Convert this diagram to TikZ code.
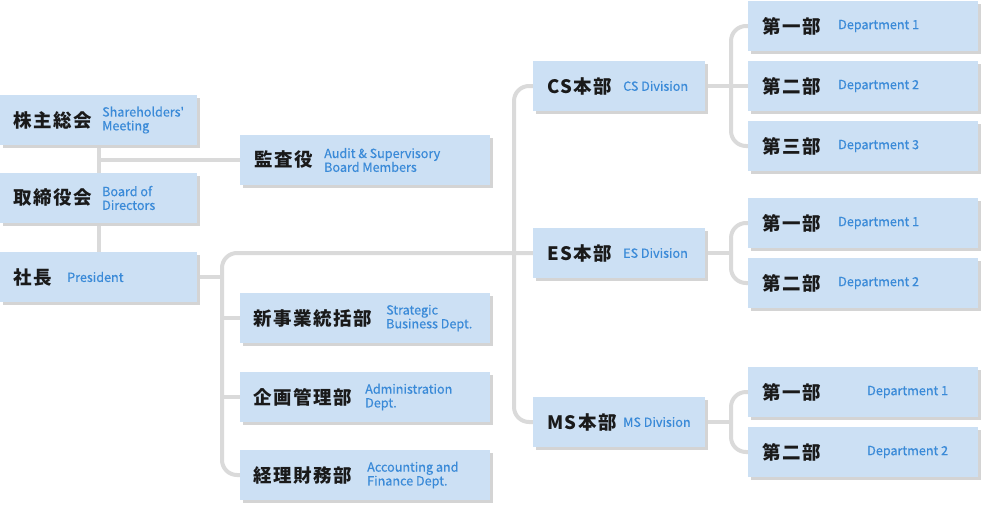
\documentclass[tikz,border=0pt]{standalone}
\usepackage{fontspec}
\setmainfont{Noto Sans CJK JP}
\newfontfamily\jpfont[LetterSpace=8]{Noto Sans CJK JP}
\newfontfamily\enfont[FakeBold=0.4]{Noto Sans CJK JP}
\usetikzlibrary{shadows}
\definecolor{boxblue}{HTML}{CCE0F4}
\definecolor{shadowgray}{HTML}{D4D4D4}
\definecolor{linegray}{HTML}{DADADA}
\definecolor{entext}{HTML}{3A8AD8}
\definecolor{jptext}{HTML}{1A1A1A}
\pgfdeclarelayer{bg}
\pgfsetlayers{bg,main}
\begin{document}
\begin{tikzpicture}[x=1pt,y=-1pt,
  box/.style={fill=boxblue, inner sep=0pt, drop shadow={shadow xshift=3pt,shadow yshift=-3pt,fill=shadowgray,opacity=1}},
  leftbox/.style={box, minimum width=197pt, minimum height=50pt},
  midbox/.style={box, minimum width=250pt, minimum height=50pt},
  divbox/.style={box, minimum width=172pt, minimum height=50pt},
  deptbox/.style={box, minimum width=230pt, minimum height=50pt},
  jp/.style={anchor=west, inner sep=0pt, text=jptext, font=\jpfont\bfseries\fontsize{18.5}{20}\selectfont},
  en/.style={anchor=west, inner sep=0pt, text=entext, align=left, font=\enfont\fontsize{12.6}{13.8}\selectfont},
  conn/.style={draw=linegray, line width=4pt},
  rc/.style={rounded corners=15pt}]
\useasboundingbox (0,0) rectangle (981,509);

% left column
\node[leftbox] (sh) at (98.5,120) {};
\node[leftbox] (bd) at (98.5,198) {};
\node[leftbox] (pr) at (98.5,277) {};
\node[jp] (sh-jp) at (13,120) {株主総会};
\node[en] (sh-en) at (102,120) {Shareholders'\\Meeting};
\node[jp] (bd-jp) at (13,198) {取締役会};
\node[en] (bd-en) at (102,198) {Board of\\Directors};
\node[jp] (pr-jp) at (13,277) {社長};
\node[en] (pr-en) at (67,277) {President};

% middle column
\node[midbox] (au) at (365,160) {};
\node[jp] (au-jp) at (254,160) {監査役};
\node[en] (au-en) at (324,160) {Audit \& Supervisory\\Board Members};
\node[midbox] (st) at (365,318) {};
\node[jp] (st-jp) at (253,318) {新事業統括部};
\node[en] (st-en) at (386,318) {Strategic\\Business Dept.};
\node[midbox] (ad) at (365,397) {};
\node[jp] (ad-jp) at (253,397) {企画管理部};
\node[en] (ad-en) at (365,397) {Administration\\Dept.};
\node[midbox] (ac) at (365,475) {};
\node[jp] (ac-jp) at (253,475) {経理財務部};
\node[en] (ac-en) at (367,475) {Accounting and\\Finance Dept.};

% divisions
\node[divbox] (cs) at (619,86) {};
\node[jp] (cs-jp) at (547,86) {CS本部};
\node[en] (cs-en) at (623,86) {CS Division};
\node[divbox] (es) at (619,253) {};
\node[jp] (es-jp) at (547,253) {ES本部};
\node[en] (es-en) at (623,253) {ES Division};
\node[divbox] (ms) at (619,422) {};
\node[jp] (ms-jp) at (547,422) {MS本部};
\node[en] (ms-en) at (623,422) {MS Division};

% departments
\node[deptbox] (d11) at (863,26) {};
\node[jp] (d11-jp) at (762,26) {第一部};
\node[en] (d11-en) at (838,26) {Department 1};
\node[deptbox] (d12) at (863,86) {};
\node[jp] (d12-jp) at (762,86) {第二部};
\node[en] (d12-en) at (838,86) {Department 2};
\node[deptbox] (d13) at (863,146) {};
\node[jp] (d13-jp) at (762,146) {第三部};
\node[en] (d13-en) at (838,146) {Department 3};
\node[deptbox] (d21) at (863,223) {};
\node[jp] (d21-jp) at (762,223) {第一部};
\node[en] (d21-en) at (838,223) {Department 1};
\node[deptbox] (d22) at (863,283) {};
\node[jp] (d22-jp) at (762,283) {第二部};
\node[en] (d22-en) at (838,283) {Department 2};
\node[deptbox] (d31) at (863,392) {};
\node[jp] (d31-jp) at (762,392) {第一部};
\node[en] (d31-en) at (867,392) {Department 1};
\node[deptbox] (d32) at (863,452) {};
\node[jp] (d32-jp) at (762,452) {第二部};
\node[en] (d32-en) at (867,452) {Department 2};

\coordinate (bx) at (222,0);
\coordinate (dx) at (514,0);
\coordinate (ex) at (731,0);

\begin{pgfonlayer}{bg}
\draw[conn] (sh) -- (bd);
\draw[conn] (bd) -- (pr);
\draw[conn] (sh |- au) -- (au);
\draw[conn] (pr) -- (pr -| bx);
\draw[conn,rc] (es) -| (bx |- ac) -- (ac);
\draw[conn] (st -| bx) -- (st);
\draw[conn] (ad -| bx) -- (ad);
\draw[conn,rc] (cs) -| (dx |- ms) -- (ms);
\draw[conn] (cs) -- (d12);
\draw[conn,rc] (d11) -| (ex |- d13) -- (d13);
\draw[conn] (es) -- (es -| ex);
\draw[conn,rc] (d21) -| (ex |- d22) -- (d22);
\draw[conn] (ms) -- (ms -| ex);
\draw[conn,rc] (d31) -| (ex |- d32) -- (d32);
\end{pgfonlayer}
\end{tikzpicture}
\end{document}
